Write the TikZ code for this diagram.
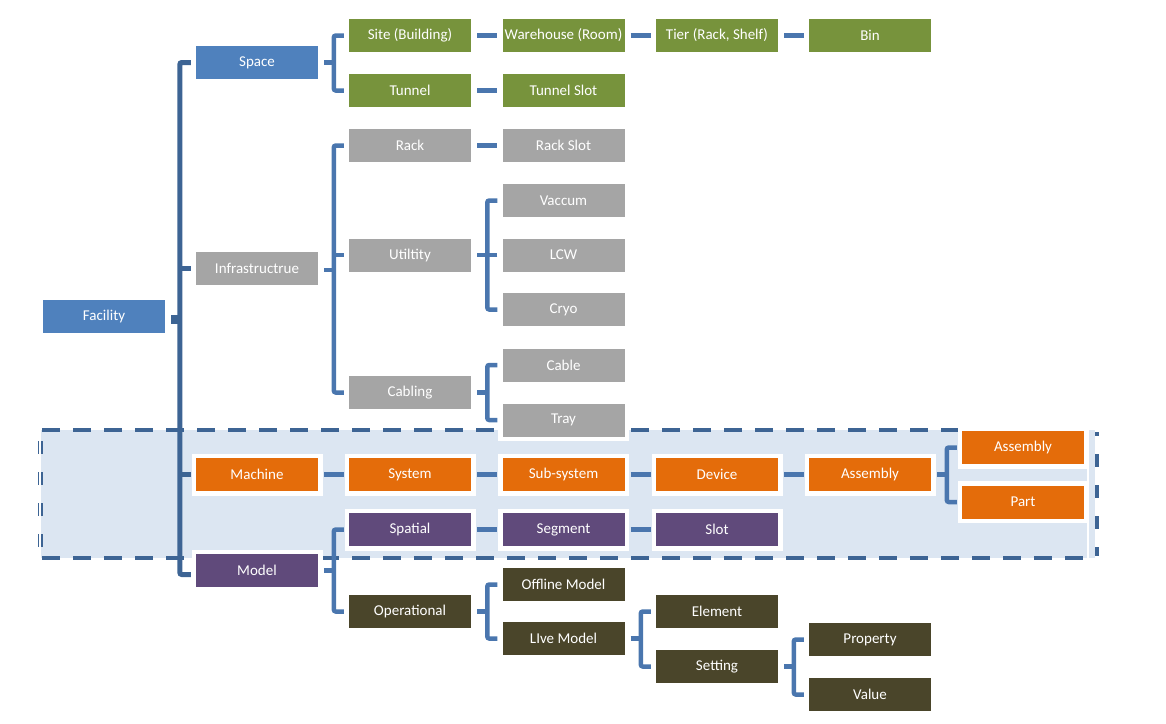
\documentclass[tikz,border=0pt]{standalone}
\usepackage{fontspec}
\setmainfont{Carlito}
\usetikzlibrary{calc}
\definecolor{cblue}{HTML}{4F81BD}
\definecolor{cgreen}{HTML}{77933C}
\definecolor{cgray}{HTML}{A5A5A5}
\definecolor{corange}{HTML}{E46C0A}
\definecolor{cpurple}{HTML}{604A7B}
\definecolor{colive}{HTML}{4A452A}
\definecolor{lineblue}{HTML}{4A76AE}
\definecolor{darkline}{HTML}{3D6494}
\definecolor{bgblue}{HTML}{DCE6F2}
\tikzset{
  box/.style={minimum width=122pt,minimum height=33pt,inner sep=0pt,text=white,
    font=\fontsize{15}{17}\selectfont,preaction={draw=white,line width=9pt}},
  bblue/.style={box,fill=cblue},
  bgreen/.style={box,fill=cgreen},
  bgray/.style={box,fill=cgray},
  borange/.style={box,fill=corange},
  bpurple/.style={box,fill=cpurple},
  bolive/.style={box,fill=colive},
  conn/.style={draw=lineblue,line width=4.5pt,rounded corners=2pt},
  mainconn/.style={draw=darkline,line width=5pt,rounded corners=2pt},
  dashline/.style={draw=darkline,line width=4.5pt,dash pattern=on 18pt off 13pt}
}
\begin{document}
\begin{tikzpicture}[x=1pt,y=-1pt]
\useasboundingbox (0,0) rectangle (1166,723);
% highlighted band
\fill[bgblue] (41,430) rectangle (1095,558);
\draw[dashline] (42,430) -- (1093,430);
\draw[dashline] (42,558) -- (1092,558);
\draw[dashline,dash pattern=on 13pt off 18pt,dash phase=9pt] (1097,432) -- (1097,556);
\draw[darkline,line width=1.7pt,dash pattern=on 13pt off 18pt,dash phase=-1pt] (38.5,440) -- (38.5,552);
\draw[darkline,line width=1.7pt,dash pattern=on 13pt off 18pt,dash phase=-1pt] (42,440) -- (42,552);
\draw[white,line width=1.3pt] (1088,430) -- (1088,560);

% nodes
\node[bblue] (fac) at (104,316.5) {Facility};
\node[bblue] (space) at (257,62.5) {Space};
\node[bgray] (infra) at (257,268.5) {Infrastructrue};
\node[borange] (mach) at (257,474.5) {Machine};
\node[bpurple] (model) at (257,570.5) {Model};

\node[bgreen] (site) at (410,35.5) {Site (Building)};
\node[bgreen] (tunnel) at (410,90.5) {Tunnel};
\node[bgray] (rack) at (410,145.5) {Rack};
\node[bgray] (util) at (410,255) {Utiltity};
\node[bgray] (cabling) at (410,392.5) {Cabling};
\node[borange] (system) at (410,474.5) {System};
\node[bpurple] (spatial) at (410,529.5) {Spatial};
\node[bolive] (oper) at (410,611.5) {Operational};

\node[bgreen] (wh) at (563.5,35.5) {Warehouse (Room)};
\node[bgreen] (tslot) at (563.5,90.5) {Tunnel Slot};
\node[bgray] (rslot) at (563.5,145.5) {Rack Slot};
\node[bgray] (vac) at (563.5,200.5) {Vaccum};
\node[bgray] (lcw) at (563.5,255) {LCW};
\node[bgray] (cryo) at (563.5,309.5) {Cryo};
\node[bgray] (cable) at (563.5,365) {Cable};
\node[bgray] (tray) at (563.5,420) {Tray};
\node[borange] (sub) at (563.5,474.5) {Sub-system};
\node[bpurple] (seg) at (563.5,529.5) {Segment};
\node[bolive] (offl) at (563.5,584.5) {Offline Model};
\node[bolive] (live) at (563.5,638.5) {LIve Model};

\node[bgreen] (tier) at (717,35.5) {Tier (Rack, Shelf)};
\node[borange] (device) at (717,474.5) {Device};
\node[bpurple] (slot) at (717,529.5) {Slot};
\node[bolive] (elem) at (717,611.5) {Element};
\node[bolive] (setting) at (717,666.5) {Setting};

\node[bgreen] (bin) at (870,35.5) {Bin};
\node[borange] (asm) at (870,474.5) {Assembly};
\node[bolive] (prop) at (870,639.5) {Property};
\node[bolive] (value) at (870,694.5) {Value};

\node[borange] (asmb) at (1023,447.5) {Assembly};
\node[borange] (part) at (1023,502) {Part};

% straight row connectors
\foreach \a/\b in {site/wh,wh/tier,tier/bin,tunnel/tslot,rack/rslot,mach/system,system/sub,sub/device,device/asm,spatial/seg,seg/slot}
  \draw[conn] ($(\a.east)+(6,0)$) -- ($(\b.west)+(-5,0)$);

% main bracket
\draw[mainconn,line width=9pt] ($(fac.east)+(6,2.5)$) -- ++(9,0);
\draw[mainconn] ($(space.west)+(-5,0)$) -- ++(-11,0) |- ($(model.west)+(-5,4)$);
\draw[mainconn] ($(infra.west)+(-5,0)$) -- ++(-11,0);
\draw[mainconn] ($(mach.west)+(-5,0)$) -- ++(-11,0);

% space bracket
\draw[conn] ($(space.east)+(6,0)$) -- ++(10,0);
\draw[conn] ($(site.west)+(-5,0)$) -- ++(-10,0) |- ($(tunnel.west)+(-5,0)$);
% infrastructure bracket
\draw[conn] ($(infra.east)+(6,1.5)$) -- ++(10,0);
\draw[conn] ($(rack.west)+(-5,0)$) -- ++(-10,0) |- ($(cabling.west)+(-5,0)$);
\draw[conn] ($(util.west)+(-5,0)$) -- ++(-10,0);
% utility bracket
\draw[conn] ($(util.east)+(6,0)$) -- ++(10,0);
\draw[conn] ($(vac.west)+(-5,0)$) -- ++(-10,0) |- ($(cryo.west)+(-5,0)$);
\draw[conn] ($(lcw.west)+(-5,0)$) -- ++(-10,0);
% cabling bracket
\draw[conn] ($(cabling.east)+(6,0)$) -- ++(10,0);
\draw[conn] ($(cable.west)+(-5,0)$) -- ++(-10,0) |- ($(tray.west)+(-5,0)$);
% assembly bracket
\draw[conn] ($(asm.east)+(6,0)$) -- ++(10,0);
\draw[conn] ($(asmb.west)+(-5,0)$) -- ++(-10,0) |- ($(part.west)+(-5,0)$);
% model bracket
\draw[conn] ($(model.east)+(6,0)$) -- ++(10,0);
\draw[conn] ($(spatial.west)+(-5,0)$) -- ++(-10,0) |- ($(oper.west)+(-5,0)$);
% operational bracket
\draw[conn] ($(oper.east)+(6,0)$) -- ++(10,0);
\draw[conn] ($(offl.west)+(-5,0)$) -- ++(-10,0) |- ($(live.west)+(-5,0)$);
% live model bracket
\draw[conn] ($(live.east)+(6,0)$) -- ++(10,0);
\draw[conn] ($(elem.west)+(-5,0)$) -- ++(-10,0) |- ($(setting.west)+(-5,0)$);
% setting bracket
\draw[conn] ($(setting.east)+(6,0)$) -- ++(10,0);
\draw[conn] ($(prop.west)+(-5,0)$) -- ++(-10,0) |- ($(value.west)+(-5,0)$);
\end{tikzpicture}
\end{document}
